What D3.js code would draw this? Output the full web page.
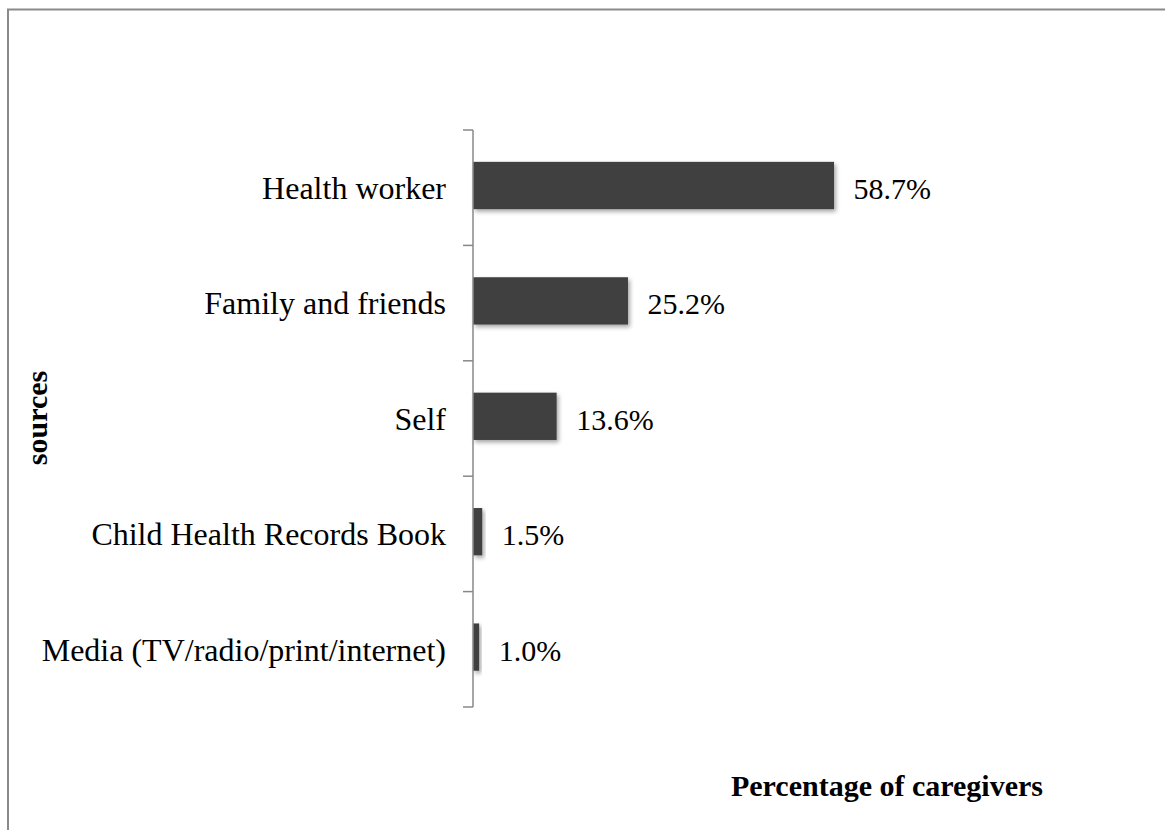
<!DOCTYPE html>
<html><head><meta charset="utf-8">
<script src="https://cdn.jsdelivr.net/npm/d3@7"></script>
<style>html,body{margin:0;padding:0;background:#fff;}svg{display:block;}</style>
</head><body>
<script>
const categories = ["Health worker","Family and friends","Self","Child Health Records Book","Media (TV/radio/print/internet)"];
const values = [58.7, 25.2, 13.6, 1.5, 1.0];
const valueLabels = ["58.7%","25.2%","13.6%","1.5%","1.0%"];
const yTitle = "sources";
const xTitle = "Percentage of caregivers";

const W = 1165, H = 830;
const FONT = "'Liberation Serif','Times New Roman',Times,serif";
const svg = d3.select("body").append("svg").attr("width", W).attr("height", H);

const defs = svg.append("defs");
const f = defs.append("filter").attr("id","sh").attr("x","-20%").attr("y","-20%").attr("width","160%").attr("height","160%");
f.append("feDropShadow").attr("dx",2).attr("dy",2.5).attr("stdDeviation",2).attr("flood-color","#000").attr("flood-opacity",0.35);

// frame (top and left)
svg.append("path").attr("d",`M8,${H} L8,9.5 L${W},9.5`).attr("fill","none").attr("stroke","#8a8a8a").attr("stroke-width",2);

const x = d3.scaleLinear().domain([0,70]).range([473, 903.5]);
const band = d3.scaleBand().domain(categories).range([130,707]);
const y = d3.scaleBand().domain(categories).range([127.8, 704.8]).paddingInner(0.59).paddingOuter(0.295);

// bars
svg.append("g").selectAll("rect").data(categories).join("rect")
  .attr("x", x(0)).attr("y", d => y(d))
  .attr("width", (d,i) => x(values[i]) - x(0))
  .attr("height", y.bandwidth())
  .attr("fill", "#404040")
  .attr("filter","url(#sh)");

// axis
const ax = svg.append("g");
ax.append("line").attr("x1",473).attr("x2",473).attr("y1",130).attr("y2",707).attr("stroke","#888").attr("stroke-width",1.5);
const tickYs = categories.map(c => band(c)).concat([band(categories[categories.length-1]) + band.bandwidth()]);
ax.selectAll("line.t").data(tickYs).join("line").attr("class","t")
  .attr("x1",463).attr("x2",473).attr("y1",d=>d).attr("y2",d=>d)
  .attr("stroke","#888").attr("stroke-width",1.5);

// category labels
svg.append("g").selectAll("text").data(categories).join("text")
  .attr("x", 446).attr("y", d => y(d) + y.bandwidth()/2 + 13.5)
  .attr("text-anchor","end")
  .attr("font-family",FONT).attr("font-size",32)
  .attr("fill","#000").text(d => d);

// value labels
svg.append("g").selectAll("text").data(categories).join("text")
  .attr("x", (d,i) => x(values[i]) + 19.5).attr("y", d => y(d) + y.bandwidth()/2 + 13.5)
  .attr("font-family",FONT).attr("font-size",30)
  .attr("fill","#000").text((d,i) => valueLabels[i]);

// titles
svg.append("text").attr("transform","translate(47,418) rotate(-90)")
  .attr("text-anchor","middle").attr("font-family",FONT)
  .attr("font-weight","bold").attr("font-size",30).text(yTitle);
svg.append("text").attr("x",1043).attr("y",796).attr("text-anchor","end")
  .attr("font-family",FONT)
  .attr("font-weight","bold").attr("font-size",30).text(xTitle);
</script>
</body></html>
